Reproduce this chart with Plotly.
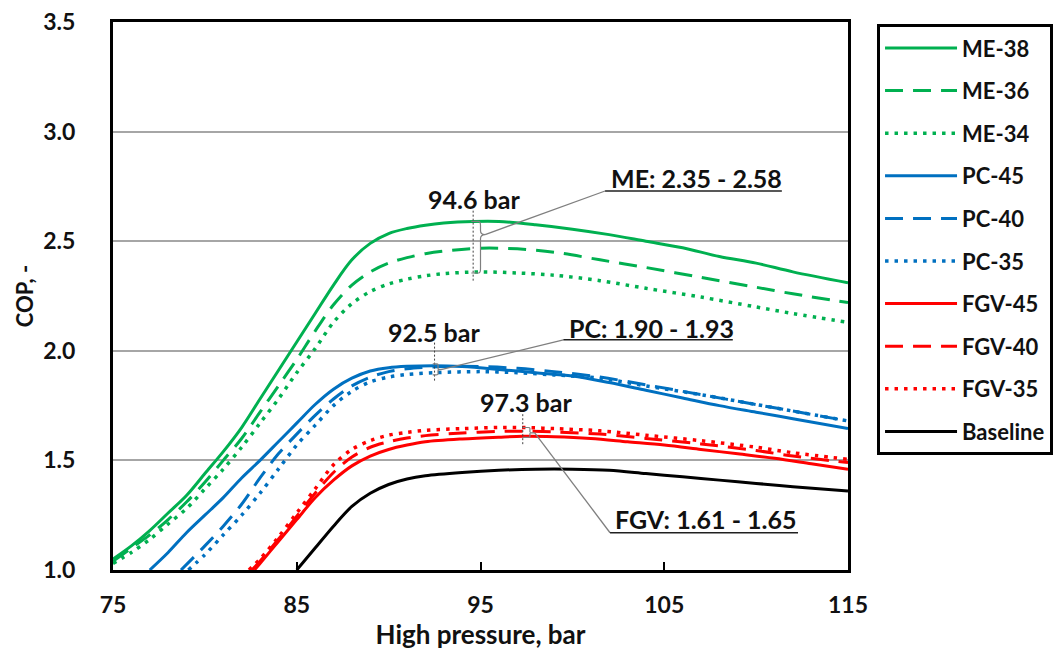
import plotly.graph_objects as go

# ---------------- data ----------------
me38_p = [75, 76, 77, 78, 79, 80, 81, 82, 83, 84, 85, 86, 87, 88, 89, 90, 91, 92, 93, 94.6, 96, 98, 100, 102, 104, 106, 108, 110, 112, 115]
me38_c = [1.05, 1.11, 1.18, 1.26, 1.34, 1.44, 1.54, 1.65, 1.78, 1.91, 2.04, 2.17, 2.30, 2.415, 2.49, 2.535, 2.558, 2.573, 2.583, 2.59, 2.59, 2.575, 2.555, 2.53, 2.50, 2.47, 2.43, 2.40, 2.36, 2.31]

me36_p = [75, 76, 77, 78, 79, 80, 81, 82, 83, 84, 85, 86, 87, 88, 89, 90, 91, 92, 93, 95, 97, 99, 101.5, 104, 107, 110, 112, 115]
me36_c = [1.04, 1.10, 1.16, 1.23, 1.31, 1.40, 1.50, 1.60, 1.72, 1.84, 1.96, 2.09, 2.21, 2.30, 2.36, 2.40, 2.425, 2.443, 2.455, 2.468, 2.465, 2.45, 2.415, 2.38, 2.335, 2.29, 2.26, 2.22]

me34_p = [75, 76, 77, 78, 79, 80, 81, 82, 83, 84, 85, 86, 87, 88, 89, 90, 91, 92, 93, 95, 97, 99, 101.5, 104, 107, 110, 112, 115]
me34_c = [1.03, 1.08, 1.14, 1.21, 1.28, 1.37, 1.46, 1.56, 1.67, 1.78, 1.90, 2.01, 2.13, 2.215, 2.27, 2.305, 2.327, 2.342, 2.352, 2.36, 2.355, 2.345, 2.32, 2.285, 2.245, 2.20, 2.17, 2.13]

pc45_p = [77.0, 78, 79, 80, 81, 82, 83, 84, 85, 86, 87, 88, 89, 90, 91, 92.5, 94, 96, 98, 100, 102, 104, 106, 108, 110, 112, 115]
pc45_c = [1.0, 1.08, 1.17, 1.25, 1.33, 1.42, 1.50, 1.585, 1.67, 1.755, 1.825, 1.875, 1.908, 1.923, 1.929, 1.932, 1.928, 1.915, 1.90, 1.885, 1.855, 1.82, 1.785, 1.75, 1.72, 1.69, 1.646]

pc40_p = [78.7, 80, 81, 82, 83, 84, 85, 86, 87, 88, 89, 90, 91, 93, 95, 97, 99, 101.5, 104, 107, 110, 112, 115]
pc40_c = [1.0, 1.11, 1.20, 1.30, 1.42, 1.53, 1.62, 1.705, 1.78, 1.84, 1.88, 1.905, 1.918, 1.928, 1.928, 1.92, 1.905, 1.88, 1.845, 1.80, 1.755, 1.725, 1.68]

pc35_p = [79.1, 80, 81, 82, 83, 84, 85, 86, 87, 88, 89, 90, 91, 92.5, 95, 97, 99, 101.5, 104, 107, 110, 112, 115]
pc35_c = [1.0, 1.07, 1.16, 1.25, 1.35, 1.46, 1.57, 1.66, 1.75, 1.815, 1.858, 1.88, 1.892, 1.90, 1.905, 1.90, 1.89, 1.875, 1.84, 1.80, 1.755, 1.725, 1.68]

fgv45_p = [82.7, 83, 84, 85, 86, 87, 88, 89, 90, 91, 92, 94, 96, 97.3, 99, 101, 103, 105, 107, 109, 111, 113, 115]
fgv45_c = [1.0, 1.03, 1.13, 1.23, 1.33, 1.41, 1.475, 1.52, 1.55, 1.57, 1.585, 1.598, 1.606, 1.61, 1.608, 1.60, 1.585, 1.57, 1.55, 1.53, 1.51, 1.485, 1.46]

fgv40_p = [82.55, 83, 84, 85, 86, 87, 88, 89, 90, 91, 92, 94, 96, 97.3, 99, 101.5, 104, 107, 110, 112, 115]
fgv40_c = [1.0, 1.04, 1.14, 1.245, 1.35, 1.445, 1.515, 1.56, 1.585, 1.602, 1.613, 1.625, 1.632, 1.633, 1.63, 1.62, 1.60, 1.575, 1.545, 1.52, 1.49]

fgv35_p = [82.4, 83, 84, 85, 86, 87, 88, 89, 90, 91, 92, 94, 96, 97.3, 99, 101.5, 104, 107, 110, 112, 115]
fgv35_c = [1.0, 1.05, 1.15, 1.26, 1.37, 1.48, 1.55, 1.59, 1.615, 1.628, 1.637, 1.645, 1.65, 1.65, 1.645, 1.635, 1.615, 1.59, 1.56, 1.535, 1.505]

base_p = [85.0, 85.5, 86, 87, 88, 89, 90, 91, 92, 94, 96, 98, 100, 102, 104, 106, 108, 110, 112, 115]
base_c = [1.0, 1.05, 1.10, 1.20, 1.29, 1.35, 1.39, 1.415, 1.43, 1.445, 1.455, 1.46, 1.46, 1.455, 1.44, 1.425, 1.41, 1.395, 1.38, 1.36]

x_ticks = [75, 85, 95, 105, 115]
y_ticks = [1.0, 1.5, 2.0, 2.5, 3.0, 3.5]

# annotation values: optimum pressure, COP range text
opt_labels = ["94.6 bar", "92.5 bar", "97.3 bar"]
opt_pressure = [94.6, 92.5, 97.3]
range_labels = ["ME: 2.35 - 2.58", "PC: 1.90 - 1.93", "FGV: 1.61 - 1.65"]
range_low = [2.355, 1.89, 1.605]
range_high = [2.59, 1.94, 1.65]

GREEN = "#00B050"
BLUE = "#0070C0"
RED = "#FF0000"
BLACK = "#000000"
DASH = "18px,10px"
DOT = "3.5px,6px"
FONT = "Lato"

series = [
    ("ME-38", me38_p, me38_c, GREEN, "solid"),
    ("ME-36", me36_p, me36_c, GREEN, DASH),
    ("ME-34", me34_p, me34_c, GREEN, DOT),
    ("PC-45", pc45_p, pc45_c, BLUE, "solid"),
    ("PC-40", pc40_p, pc40_c, BLUE, DASH),
    ("PC-35", pc35_p, pc35_c, BLUE, DOT),
    ("FGV-45", fgv45_p, fgv45_c, RED, "solid"),
    ("FGV-40", fgv40_p, fgv40_c, RED, DASH),
    ("FGV-35", fgv35_p, fgv35_c, RED, DOT),
    ("Baseline", base_p, base_c, BLACK, "solid"),
]

fig = go.Figure()
for name, px_, cy, col, dash in series:
    fig.add_trace(go.Scatter(
        x=px_, y=cy, name=name, mode="lines", legendgroup=name,
        line=dict(color=col, width=3.5 if dash == DOT else 3, dash=dash, shape="spline", smoothing=0.9),
        cliponaxis=True,
    ))

# ---------------- annotation callouts ----------------
GREY = "#7F7F7F"
shapes = []
annos = []

vlines = [(opt_pressure[0], 2.32, 2.64), (opt_pressure[1], 1.864, 2.047), (opt_pressure[2], 1.574, 1.72)]
for xv, y0, y1 in vlines:
    shapes.append(dict(type="line", xref="x", yref="y", x0=xv, x1=xv, y0=y0, y1=y1,
                       line=dict(color="#404040", width=1, dash="2px,2px")))

def brace(xl, xb, tipx, ylo, yhi, ytip):
    r = (yhi - ylo) * 0.08
    return (f"M {xl},{yhi} L {xb - 0.1},{yhi} Q {xb},{yhi} {xb},{yhi - r} "
            f"L {xb},{ytip + r} Q {xb},{ytip} {tipx},{ytip} Q {xb},{ytip} {xb},{ytip - r} "
            f"L {xb},{ylo + r} Q {xb},{ylo} {xb - 0.1},{ylo} L {xl},{ylo}")

braces = [
    (94.5, 95.0, 95.25, range_low[0], range_high[0], 2.53),
    (92.4, 92.69, 92.85, range_low[1], range_high[1], 1.914),
    (97.3, 97.69, 97.95, range_low[2], range_high[2], 1.626),
]
for xl, xb, tx, ylo, yhi, yt in braces:
    shapes.append(dict(type="path", xref="x", yref="y", path=brace(xl, xb, tx, ylo, yhi, yt),
                       line=dict(color=GREY, width=1.2)))

leaders = [
    ((95.25, 2.53), (101.78, 2.729), 111.4),
    ((92.85, 1.914), (99.51, 2.05), 108.73),
    ((97.95, 1.626), (102.05, 1.17), 112.28),
]
for (x0, y0), (x1, y1), x2 in leaders:
    shapes.append(dict(type="line", xref="x", yref="y", x0=x0, y0=y0, x1=x1, y1=y1,
                       line=dict(color=GREY, width=1.3)))
    shapes.append(dict(type="line", xref="x", yref="y", x0=x1, y0=y1, x1=x2, y1=y1,
                       line=dict(color="#202020", width=1.5)))

opt_pos = [(94.65, 2.691), (92.47, 2.085), (97.48, 1.765)]
rng_pos = [(106.78, 2.787), (104.28, 2.106), (107.27, 1.233)]
for txt, (xx, yy) in zip(opt_labels + range_labels, opt_pos + rng_pos):
    annos.append(dict(x=xx, y=yy, xref="x", yref="y", text=txt, showarrow=False,
                      xanchor="center", yanchor="middle",
                      font=dict(family=FONT, size=25, color="#111111", weight="bold")))

fig.update_layout(
    width=1060, height=653,
    margin=dict(l=113, r=212, t=22, b=83, autoexpand=False),
    paper_bgcolor="white", plot_bgcolor="white",
    font=dict(family=FONT, size=22, color="#111111", weight="bold"),
    shapes=shapes, annotations=annos,
    showlegend=True,
    legend=dict(
        x=1.0395, xanchor="left", y=0.996, yanchor="top",
        bordercolor="black", borderwidth=3, bgcolor="white",
        font=dict(family=FONT, size=22, color="#111111", weight="bold"),
        tracegroupgap=11, itemwidth=72, traceorder="grouped",
    ),
)
fig.update_xaxes(
    range=[75, 115], tickvals=x_ticks, ticktext=[str(v) for v in x_ticks],
    showline=True, linecolor="black", linewidth=3, mirror=True,
    ticks="inside", ticklen=8, tickwidth=1.5, tickcolor="black",
    showgrid=False, zeroline=False, ticklabelstandoff=12,
    tickfont=dict(family=FONT, size=23, weight="bold"),
    title=dict(text="High pressure, bar", font=dict(family=FONT, size=26, weight="bold"), standoff=2),
)
fig.update_yaxes(
    range=[1.0, 3.5], tickvals=y_ticks, ticktext=[f"{v:.1f}" for v in y_ticks],
    showline=True, linecolor="black", linewidth=3, mirror=True,
    ticks="", showgrid=True, gridcolor="#A6A6A6", gridwidth=1.5, zeroline=False,
    ticklabelstandoff=30,
    tickfont=dict(family=FONT, size=23, weight="bold"),
    title=dict(text="COP, -", font=dict(family=FONT, size=22, weight="bold"), standoff=4),
)

fig.write_html("out.html")
